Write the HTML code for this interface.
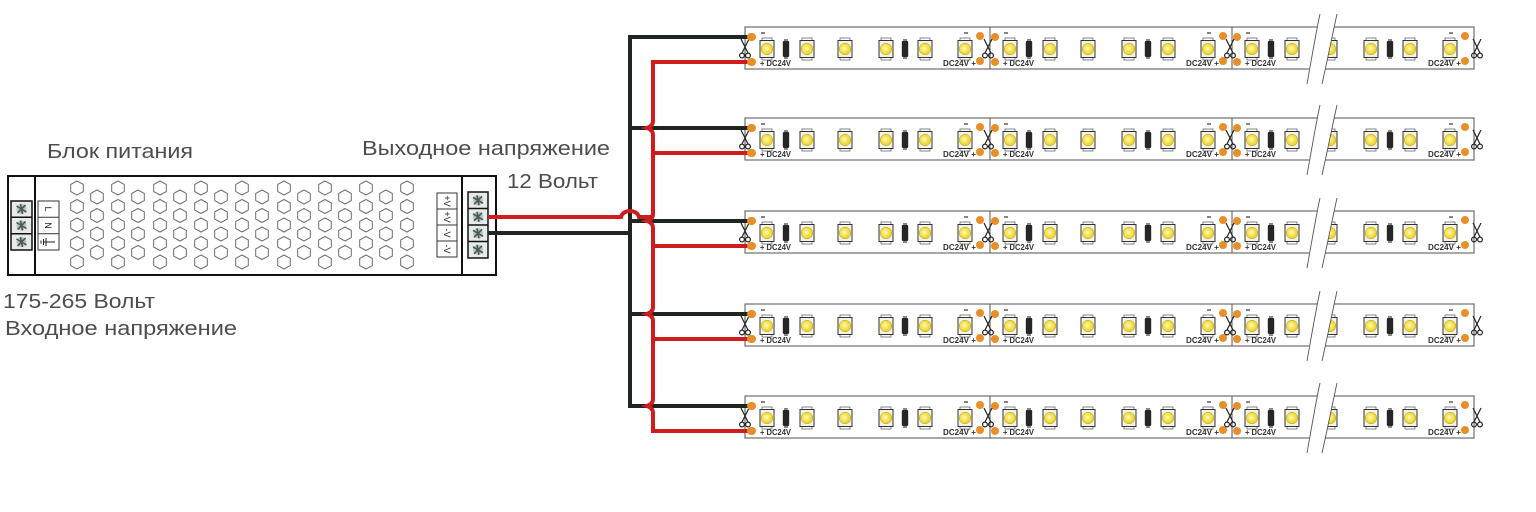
<!DOCTYPE html>
<html><head><meta charset="utf-8"><style>
html,body{margin:0;padding:0;background:#fff;}
svg{display:block;}
.t{font-family:"Liberation Sans","DejaVu Sans",sans-serif;fill:#4d4d4d;font-size:20.5px;}
.d{font-family:"Liberation Sans",sans-serif;fill:#333;font-size:8px;font-weight:bold;}
.s{font-family:"Liberation Sans",sans-serif;fill:#222;font-size:9px;}
</style></head><body>
<svg width="1536" height="512" viewBox="0 0 1536 512" xmlns="http://www.w3.org/2000/svg" xmlns:xlink="http://www.w3.org/1999/xlink">
<defs>
<radialGradient id="yg" cx="0.45" cy="0.45" r="0.6"><stop offset="0" stop-color="#fffbd8"/><stop offset="0.35" stop-color="#f9ea6a"/><stop offset="1" stop-color="#e4c81c"/></radialGradient>
<polygon id="hx" points="0,-7 6.3,-3.6 6.3,3.6 0,7 -6.3,3.6 -6.3,-3.6" fill="none" stroke="#6e6e6e" stroke-width="1"/>
<g id="c5"><use href="#hx" y="0"/><use href="#hx" y="18.5"/><use href="#hx" y="37"/><use href="#hx" y="55.5"/><use href="#hx" y="74"/></g>
<g id="c4"><use href="#hx" y="0"/><use href="#hx" y="18.5"/><use href="#hx" y="37"/><use href="#hx" y="55.5"/></g>
<g id="scr"><circle r="5" fill="#b9c1bd"/><path d="M-5,-3 L5,3 M-4,4 L4,-4 M-1,-5 L1,5" stroke="#4a5a55" stroke-width="1.6" fill="none"/></g>
<g id="led">
 <rect x="-5" y="-11" width="10" height="22" fill="none" stroke="#666" stroke-width="0.8"/>
 <rect x="-7" y="-8.5" width="14" height="17" fill="#f4f2e6" stroke="#333" stroke-width="1"/>
 <circle r="5.8" fill="url(#yg)" stroke="#b89e1a" stroke-width="0.5"/>
</g>
<g id="res"><rect x="-2" y="-10" width="4" height="20" fill="#888"/><rect x="-3.2" y="-8" width="6.4" height="16" rx="1.2" fill="#262626"/></g>
<g id="sc" fill="none" stroke="#222" stroke-width="1.2"><path d="M-4,-10 L3,4 M4,-10 L-3,4"/><circle cx="-3" cy="6.5" r="2.4"/><circle cx="3" cy="6.5" r="2.4"/></g>
<g id="seg">
 <circle cx="5" cy="10" r="4" fill="#e88f2a"/><circle cx="5" cy="35" r="4" fill="#e88f2a"/>
 <line x1="14" y1="6" x2="18" y2="6" stroke="#333" stroke-width="1.2"/>
 <use href="#led" x="20" y="22"/><use href="#res" x="39" y="22"/><use href="#led" x="60" y="22"/>
 <use href="#led" x="98" y="22"/>
 <use href="#led" x="139" y="22"/><use href="#res" x="158" y="22"/><use href="#led" x="178" y="22"/>
 <use href="#led" x="218" y="22"/>
 <circle cx="233" cy="9" r="4" fill="#e88f2a"/><circle cx="233" cy="34" r="4" fill="#e88f2a"/>
 <line x1="217" y1="6" x2="221" y2="6" stroke="#333" stroke-width="1.2"/>
</g>
<g id="strip">
 <rect x="745" y="0" width="729" height="42" fill="#fff" stroke="#6e6e6e" stroke-width="1.2"/>
 <line x1="990" y1="0" x2="990" y2="42" stroke="#555" stroke-width="1"/>
 <line x1="1232" y1="0" x2="1232" y2="42" stroke="#555" stroke-width="1"/>
 <use href="#seg" x="747"/><use href="#seg" x="990"/><use href="#seg" x="1232"/>
 <polygon points="1320,-13 1337,-13 1322,57 1306,57" fill="#fff"/>
 <path d="M1320,-13 C1316,5 1311,35 1307,57 M1337,-13 C1333,5 1327,35 1322,57" fill="none" stroke="#555" stroke-width="0.9"/>
 <use href="#sc" x="745" y="22"/><use href="#sc" x="988" y="22"/><use href="#sc" x="1230" y="22"/><use href="#sc" x="1477" y="22"/>
</g>
</defs>

<!-- Power supply -->
<rect x="8" y="176" width="488" height="99" fill="#fff" stroke="#111" stroke-width="2"/>
<line x1="35" y1="176" x2="35" y2="275" stroke="#111" stroke-width="2"/>
<line x1="462" y1="176" x2="462" y2="275" stroke="#111" stroke-width="2"/>
<!-- left terminal -->
<rect x="11" y="201" width="21" height="49" fill="#e6eae8" stroke="#111" stroke-width="1.5"/>
<line x1="11" y1="217.3" x2="32" y2="217.3" stroke="#111" stroke-width="1.5"/>
<line x1="11" y1="233.7" x2="32" y2="233.7" stroke="#111" stroke-width="1.5"/>
<use href="#scr" x="21.5" y="209"/><use href="#scr" x="21.5" y="225.5"/><use href="#scr" x="21.5" y="242"/>
<rect x="38" y="201" width="21" height="49" fill="#fff" stroke="#333" stroke-width="1"/>
<line x1="38" y1="217.3" x2="59" y2="217.3" stroke="#333" stroke-width="1"/>
<line x1="38" y1="233.7" x2="59" y2="233.7" stroke="#333" stroke-width="1"/>
<text class="s" transform="translate(45,209) rotate(90)" text-anchor="middle">L</text>
<text class="s" transform="translate(45,225.5) rotate(90)" text-anchor="middle">N</text>
<path d="M43,242 L55,242 M46,238 L46,246 M43.5,239 L43.5,245 M41,240.5 L41,243.5" stroke="#222" stroke-width="1" fill="none"/>
<!-- hexes -->
<g transform="translate(0,188)">
<use href="#c5" x="77"/><use href="#c5" x="118"/><use href="#c5" x="160"/><use href="#c5" x="201"/><use href="#c5" x="242"/><use href="#c5" x="284"/><use href="#c5" x="325"/><use href="#c5" x="366"/><use href="#c5" x="407"/>
</g>
<g transform="translate(0,197)">
<use href="#c4" x="97"/><use href="#c4" x="138"/><use href="#c4" x="180"/><use href="#c4" x="221"/><use href="#c4" x="262"/><use href="#c4" x="304"/><use href="#c4" x="345"/><use href="#c4" x="386"/>
</g>
<!-- right labels -->
<rect x="437" y="193" width="20" height="64" fill="#fff" stroke="#333" stroke-width="1"/>
<line x1="437" y1="209" x2="457" y2="209" stroke="#333" stroke-width="1"/>
<line x1="437" y1="225" x2="457" y2="225" stroke="#333" stroke-width="1"/>
<line x1="437" y1="241" x2="457" y2="241" stroke="#333" stroke-width="1"/>
<text class="s" transform="translate(444,201) rotate(90)" text-anchor="middle" font-size="8">+V</text>
<text class="s" transform="translate(444,217) rotate(90)" text-anchor="middle" font-size="8">+V</text>
<text class="s" transform="translate(444,233) rotate(90)" text-anchor="middle" font-size="8">-V</text>
<text class="s" transform="translate(444,249) rotate(90)" text-anchor="middle" font-size="8">-V</text>
<!-- right terminal -->
<rect x="468" y="192" width="20" height="66" fill="#e6eae8" stroke="#111" stroke-width="1.5"/>
<line x1="468" y1="208.5" x2="488" y2="208.5" stroke="#111" stroke-width="1.5"/>
<line x1="468" y1="225" x2="488" y2="225" stroke="#111" stroke-width="1.5"/>
<line x1="468" y1="241.5" x2="488" y2="241.5" stroke="#111" stroke-width="1.5"/>
<use href="#scr" x="478" y="200.3"/><use href="#scr" x="478" y="216.8"/><use href="#scr" x="478" y="233.3"/><use href="#scr" x="478" y="249.8"/>

<!-- Labels -->
<text class="t" x="47" y="158" textLength="146" lengthAdjust="spacingAndGlyphs">Блок питания</text>
<text class="t" x="362" y="155" textLength="248" lengthAdjust="spacingAndGlyphs">Выходное напряжение</text>
<text class="t" x="507" y="188" textLength="91" lengthAdjust="spacingAndGlyphs">12 Вольт</text>
<text class="t" x="3" y="308" textLength="152" lengthAdjust="spacingAndGlyphs">175-265 Вольт</text>
<text class="t" x="5" y="335" textLength="232" lengthAdjust="spacingAndGlyphs">Входное напряжение</text>

<!-- Strips -->
<use href="#strip" y="27"/>
<use href="#strip" y="118"/>
<use href="#strip" y="211"/>
<use href="#strip" y="304"/>
<use href="#strip" y="396"/>

<!-- strip texts -->
<g class="d">
<text class="d" x="760" y="66" textLength="31" lengthAdjust="spacingAndGlyphs">+ DC24V</text>
<text class="d" x="1003" y="66" textLength="31" lengthAdjust="spacingAndGlyphs">+ DC24V</text>
<text class="d" x="1245" y="66" textLength="31" lengthAdjust="spacingAndGlyphs">+ DC24V</text>
<text class="d" x="943" y="66" textLength="33" lengthAdjust="spacingAndGlyphs">DC24V +</text>
<text class="d" x="1186" y="66" textLength="33" lengthAdjust="spacingAndGlyphs">DC24V +</text>
<text class="d" x="1428" y="66" textLength="33" lengthAdjust="spacingAndGlyphs">DC24V +</text>

<text class="d" x="760" y="157" textLength="31" lengthAdjust="spacingAndGlyphs">+ DC24V</text>
<text class="d" x="1003" y="157" textLength="31" lengthAdjust="spacingAndGlyphs">+ DC24V</text>
<text class="d" x="1245" y="157" textLength="31" lengthAdjust="spacingAndGlyphs">+ DC24V</text>
<text class="d" x="943" y="157" textLength="33" lengthAdjust="spacingAndGlyphs">DC24V +</text>
<text class="d" x="1186" y="157" textLength="33" lengthAdjust="spacingAndGlyphs">DC24V +</text>
<text class="d" x="1428" y="157" textLength="33" lengthAdjust="spacingAndGlyphs">DC24V +</text>

<text class="d" x="760" y="250" textLength="31" lengthAdjust="spacingAndGlyphs">+ DC24V</text>
<text class="d" x="1003" y="250" textLength="31" lengthAdjust="spacingAndGlyphs">+ DC24V</text>
<text class="d" x="1245" y="250" textLength="31" lengthAdjust="spacingAndGlyphs">+ DC24V</text>
<text class="d" x="943" y="250" textLength="33" lengthAdjust="spacingAndGlyphs">DC24V +</text>
<text class="d" x="1186" y="250" textLength="33" lengthAdjust="spacingAndGlyphs">DC24V +</text>
<text class="d" x="1428" y="250" textLength="33" lengthAdjust="spacingAndGlyphs">DC24V +</text>

<text class="d" x="760" y="343" textLength="31" lengthAdjust="spacingAndGlyphs">+ DC24V</text>
<text class="d" x="1003" y="343" textLength="31" lengthAdjust="spacingAndGlyphs">+ DC24V</text>
<text class="d" x="1245" y="343" textLength="31" lengthAdjust="spacingAndGlyphs">+ DC24V</text>
<text class="d" x="943" y="343" textLength="33" lengthAdjust="spacingAndGlyphs">DC24V +</text>
<text class="d" x="1186" y="343" textLength="33" lengthAdjust="spacingAndGlyphs">DC24V +</text>
<text class="d" x="1428" y="343" textLength="33" lengthAdjust="spacingAndGlyphs">DC24V +</text>

<text class="d" x="760" y="435" textLength="31" lengthAdjust="spacingAndGlyphs">+ DC24V</text>
<text class="d" x="1003" y="435" textLength="31" lengthAdjust="spacingAndGlyphs">+ DC24V</text>
<text class="d" x="1245" y="435" textLength="31" lengthAdjust="spacingAndGlyphs">+ DC24V</text>
<text class="d" x="943" y="435" textLength="33" lengthAdjust="spacingAndGlyphs">DC24V +</text>
<text class="d" x="1186" y="435" textLength="33" lengthAdjust="spacingAndGlyphs">DC24V +</text>
<text class="d" x="1428" y="435" textLength="33" lengthAdjust="spacingAndGlyphs">DC24V +</text>
</g>

<!-- Wires: black -->
<g fill="none" stroke="#1f2622" stroke-width="4" stroke-linejoin="miter">
<path d="M751,37 L630,37 L630,406 L751,406"/>
<path d="M630,128 L751,128"/>
<path d="M630,221 L751,221"/>
<path d="M630,314 L751,314"/>
<path d="M488,233 L630,233"/>
</g>
<!-- Wires: red -->
<g fill="none" stroke="#d01c1f" stroke-width="4" stroke-linejoin="miter">
<path d="M751,62 L653,62 L653,121 Q653,126 647,128 Q653,130 653,135 L653,214 Q653,219 647,221 Q653,223 653,228 L653,307 Q653,312 647,314 Q653,316 653,321 L653,399 Q653,404 647,406 Q653,408 653,413 L653,431 L751,431"/>
<path d="M653,153 L751,153"/>
<path d="M653,246 L751,246"/>
<path d="M653,339 L751,339"/>
<path d="M488,217 L621,217 C623,209 637,209 639,217 L653,217"/>
</g>
<!-- wire end dots -->
<g fill="#e88f2a">
<circle cx="751" cy="37" r="4"/><circle cx="751" cy="62" r="4"/>
<circle cx="751" cy="128" r="4"/><circle cx="751" cy="153" r="4"/>
<circle cx="751" cy="221" r="4"/><circle cx="751" cy="246" r="4"/>
<circle cx="751" cy="314" r="4"/><circle cx="751" cy="339" r="4"/>
<circle cx="751" cy="406" r="4"/><circle cx="751" cy="431" r="4"/>
</g>
</svg>
</body></html>
